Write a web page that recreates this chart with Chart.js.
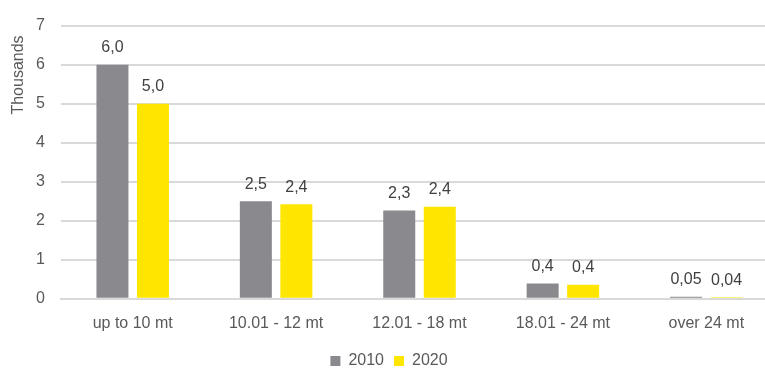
<!DOCTYPE html>
<html>
<head>
<meta charset="utf-8">
<script src="https://cdn.jsdelivr.net/npm/chart.js@4"></script>
<style>
    html, body { margin: 0; padding: 0; background: #fff; overflow: hidden; }
    #wrap { width: 778px; height: 369px; }
</style>
</head>
<body>
<div id="wrap"><canvas id="chart" width="778" height="369"></canvas></div>
<script>
// --- Data ---
const categories = ['up to 10 mt', '10.01 - 12 mt', '12.01 - 18 mt', '18.01 - 24 mt', 'over 24 mt'];
const values2010 = [6.0, 2.5, 2.26, 0.39, 0.05];
const values2020 = [5.0, 2.42, 2.36, 0.36, 0.04];
const yTicks = [0, 1, 2, 3, 4, 5, 6, 7];
const yTitle = 'Thousands';

const COLORS = {
    gray: '#8a898e',
    yellow: '#ffe600',
    text: '#595959',
    label: '#404040',
    grid: '#d9d9d9',
};

const FONT = 'Liberation Sans, Arial, sans-serif';
const FONT_SIZE = 16;

// comma decimals, two decimals for very small values
function formatLabel(v) {
    const s = v < 0.1 ? v.toFixed(2) : v.toFixed(1);
    return s.replace('.', ',');
}

// --- Value labels above bars + rotated unit title ---
const barLabels = {
    id: 'barLabels',
    afterDatasetsDraw(chart) {
        const ctx = chart.ctx;
        ctx.save();
        ctx.font = FONT_SIZE + 'px ' + FONT;
        ctx.fillStyle = COLORS.label;
        ctx.textAlign = 'center';
        ctx.textBaseline = 'bottom';
        chart.data.datasets.forEach((ds, i) => {
            chart.getDatasetMeta(i).data.forEach((bar, j) => {
                ctx.fillText(formatLabel(ds.data[j]), bar.x, bar.y - 9);
            });
        });

        // unit title, placed near the top like Excel's display unit label
        ctx.fillStyle = COLORS.text;
        ctx.translate(19, 75);
        ctx.rotate(-Math.PI / 2);
        ctx.textBaseline = 'middle';
        ctx.fillText(yTitle, 0, 0);
        ctx.restore();
    }
};

new Chart(document.getElementById('chart'), {
    type: 'bar',
    data: {
        labels: categories,
        datasets: [
            {
                label: '2010',
                data: values2010,
                backgroundColor: COLORS.gray,
                categoryPercentage: 0.565,
                barPercentage: 0.79,
            },
            {
                label: '2020',
                data: values2020,
                backgroundColor: COLORS.yellow,
                categoryPercentage: 0.565,
                barPercentage: 0.79,
            }
        ]
    },
    options: {
        responsive: false,
        animation: false,
        layout: { padding: { top: 18, left: 0, right: 0, bottom: -10 } },
        plugins: {
            legend: {
                position: 'bottom',
                labels: {
                    boxWidth: 10,
                    boxHeight: 10,
                    padding: 10,
                    color: COLORS.text,
                    font: { family: FONT, size: FONT_SIZE },
                }
            },
            tooltip: { enabled: false }
        },
        scales: {
            x: {
                grid: { display: false },
                border: { color: COLORS.grid, width: 2 },
                afterFit: axis => { axis.height += 3; },
                ticks: {
                    color: COLORS.text,
                    font: { family: FONT, size: FONT_SIZE },
                    padding: 7,
                    maxRotation: 0,
                }
            },
            y: {
                min: 0,
                max: 7,
                afterBuildTicks: axis => { axis.ticks = yTicks.map(v => ({ value: v })); },
                afterFit: axis => { axis.width = 61; },
                grid: { color: COLORS.grid, lineWidth: 2, drawTicks: false },
                border: { display: false },
                ticks: {
                    color: COLORS.text,
                    font: { family: FONT, size: FONT_SIZE },
                    padding: 16,
                }
            }
        }
    },
    plugins: [barLabels]
});
</script>
</body>
</html>
